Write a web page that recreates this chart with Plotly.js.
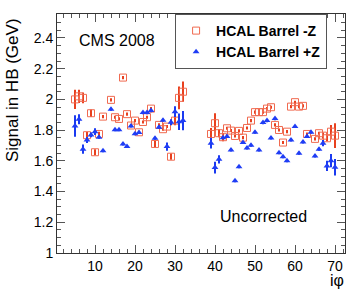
<!DOCTYPE html>
<html>
<head>
<meta charset="utf-8">
<script src="https://cdn.plot.ly/plotly-3.0.1.min.js"></script>
<style>html,body{margin:0;padding:0;background:#fff;}#chart{width:353px;height:291px;}</style>
</head>
<body>
<div id="chart"></div>
<script>
// iphi positions
const iphiMinusZ = [5,6,7,8,9,10,11,12,14,15,16,17,18,19,20,21,22,23,24,25,26,27,28,29,30,31,32,
                    39,40,41,42,43,44,45,46,47,48,49,50,51,52,53,54,55,56,57,58,59,60,61,62,63,65,66,67,68,69,70];
const signalMinusZ = [2.00,2.02,2.01,1.767,1.91,1.656,1.775,1.888,1.997,1.884,1.873,2.142,1.904,1.83,1.862,1.786,1.853,1.884,1.94,1.71,1.834,1.806,1.823,1.627,1.862,2.01,2.05,
                      1.775,1.845,1.78,1.754,1.812,1.797,1.762,1.795,1.751,1.814,1.862,1.917,1.917,1.917,1.94,1.949,1.834,1.801,1.719,1.79,1.953,1.982,1.953,1.958,1.775,1.743,1.78,1.764,1.747,1.79,1.764];
const errMinusZ = [0.063,0.043,0.035,0.02,0.024,0.02,0.015,0.01,0.01,0.01,0.01,0.01,0.01,0.01,0.01,0.01,0.01,0.01,0.01,0.02,0.01,0.01,0.01,0.02,0.03,0.074,0.066,
                   0.038,0.065,0.026,0.027,0.01,0.01,0.01,0.01,0.01,0.01,0.01,0.01,0.01,0.01,0.01,0.01,0.01,0.01,0.01,0.01,0.01,0.01,0.01,0.01,0.01,0.01,0.01,0.02,0.02,0.043,0.08];

const iphiPlusZ = [5,6,7,8,9,10,11,12,14,15,16,17,18,19,20,21,22,23,24,25,26,27,28,29,30,31,32,
                   39,40,41,42,43,44,45,46,47,48,49,50,51,52,53,54,55,56,57,58,59,60,61,62,63,64,65,66,67,68,69,70];
const signalPlusZ = [1.827,1.871,1.676,1.736,1.769,1.79,1.754,1.666,1.936,1.803,1.803,1.71,1.693,1.827,1.777,1.784,1.914,1.914,1.927,1.747,1.819,1.864,1.693,1.851,1.92,1.855,1.862,
                     1.715,1.556,1.61,1.751,1.758,1.671,1.471,1.562,1.719,1.684,1.702,1.786,1.671,1.849,1.862,1.749,1.875,1.653,1.627,1.601,1.736,1.823,1.649,1.723,1.758,1.786,1.632,1.676,1.715,1.567,1.601,1.558];
const errPlusZ = [0.07,0.033,0.03,0.02,0.015,0.022,0.01,0.01,0.01,0.01,0.01,0.01,0.01,0.01,0.01,0.01,0.01,0.01,0.01,0.01,0.01,0.01,0.027,0.02,0.035,0.054,0.063,
                  0.035,0.038,0.027,0.01,0.01,0.01,0.01,0.01,0.01,0.01,0.01,0.01,0.01,0.01,0.01,0.01,0.01,0.01,0.01,0.01,0.01,0.01,0.01,0.01,0.01,0.01,0.01,0.01,0.02,0.033,0.043,0.054];

const yTickVals = [1,1.2,1.4,1.6,1.8,2,2.2,2.4];
const xTickVals = [10,20,30,40,50,60,70];

const FONT = "Liberation Sans, Arial, Helvetica, sans-serif";
const RED = "#f06a50";
const BLUE = "#1f3df5";

const traces = [
  {
    type: 'scatter', mode: 'markers', name: 'HCAL Barrel -Z',
    x: iphiMinusZ, y: signalMinusZ,
    error_y: {type: 'data', array: errMinusZ, visible: true, color: '#e8401e', thickness: 2, width: 0},
    marker: {symbol: 'square-open', size: 7, color: RED, line: {width: 1, color: RED}}
  },
  {
    type: 'scatter', mode: 'markers', name: 'HCAL Barrel +Z',
    x: iphiPlusZ, y: signalPlusZ,
    error_y: {type: 'data', array: errPlusZ, visible: true, color: '#1a3af0', thickness: 2, width: 0},
    marker: {symbol: 'triangle-up', size: 6, color: BLUE}
  }
];

const axisCommon = {
  showgrid: false, zeroline: false, showline: true, linecolor: '#333', linewidth: 1,
  mirror: 'ticks', ticks: 'inside', ticklen: 8, tickwidth: 1, tickcolor: '#555',
  tickfont: {family: FONT, size: 14, color: '#000'}
};

const layout = {
  width: 353, height: 291,
  margin: {l: 57, r: 8, t: 14, b: 38, pad: 0},
  paper_bgcolor: '#fff', plot_bgcolor: '#fff',
  font: {family: FONT, color: '#000'},
  showlegend: true,
  legend: {
    x: 0.41, y: 1, xanchor: 'left', yanchor: 'top',
    bgcolor: '#fff', bordercolor: '#555', borderwidth: 1,
    font: {family: FONT, size: 14, weight: 'bold', color: '#000'},
    tracegroupgap: 2
  },
  xaxis: Object.assign({}, axisCommon, {
    range: [0.5, 72.5], tickvals: xTickVals, ticktext: xTickVals.map(String),
    minor: {dtick: 2, tick0: 0, ticks: 'inside', ticklen: 4, tickcolor: '#555'}
  }),
  yaxis: Object.assign({}, axisCommon, {
    range: [1, 2.556], tickvals: yTickVals, ticktext: yTickVals.map(String),
    minor: {dtick: 0.05, tick0: 1, ticks: 'inside', ticklen: 4, tickcolor: '#555'}
  }),
  annotations: [
    {text: 'Signal in HB (GeV)', xref: 'paper', yref: 'paper', x: -0.156, y: 0.682,
     xanchor: 'center', yanchor: 'middle', textangle: -90, showarrow: false,
     font: {family: FONT, size: 17, color: '#000'}},
    {text: 'iφ', xref: 'paper', yref: 'paper', x: 0.972, y: -0.113,
     xanchor: 'center', yanchor: 'middle', showarrow: false,
     font: {family: FONT, size: 16, color: '#000'}},
    {text: 'CMS 2008', xref: 'paper', yref: 'paper', x: 0.21, y: 0.888,
     xanchor: 'center', yanchor: 'middle', showarrow: false,
     font: {family: FONT, size: 16, color: '#000'}},
    {text: 'Uncorrected', xref: 'paper', yref: 'paper', x: 0.717, y: 0.152,
     xanchor: 'center', yanchor: 'middle', showarrow: false,
     font: {family: FONT, size: 16, color: '#000'}}
  ]
};

Plotly.newPlot('chart', traces, layout, {staticPlot: true, displayModeBar: false});
</script>
</body>
</html>
